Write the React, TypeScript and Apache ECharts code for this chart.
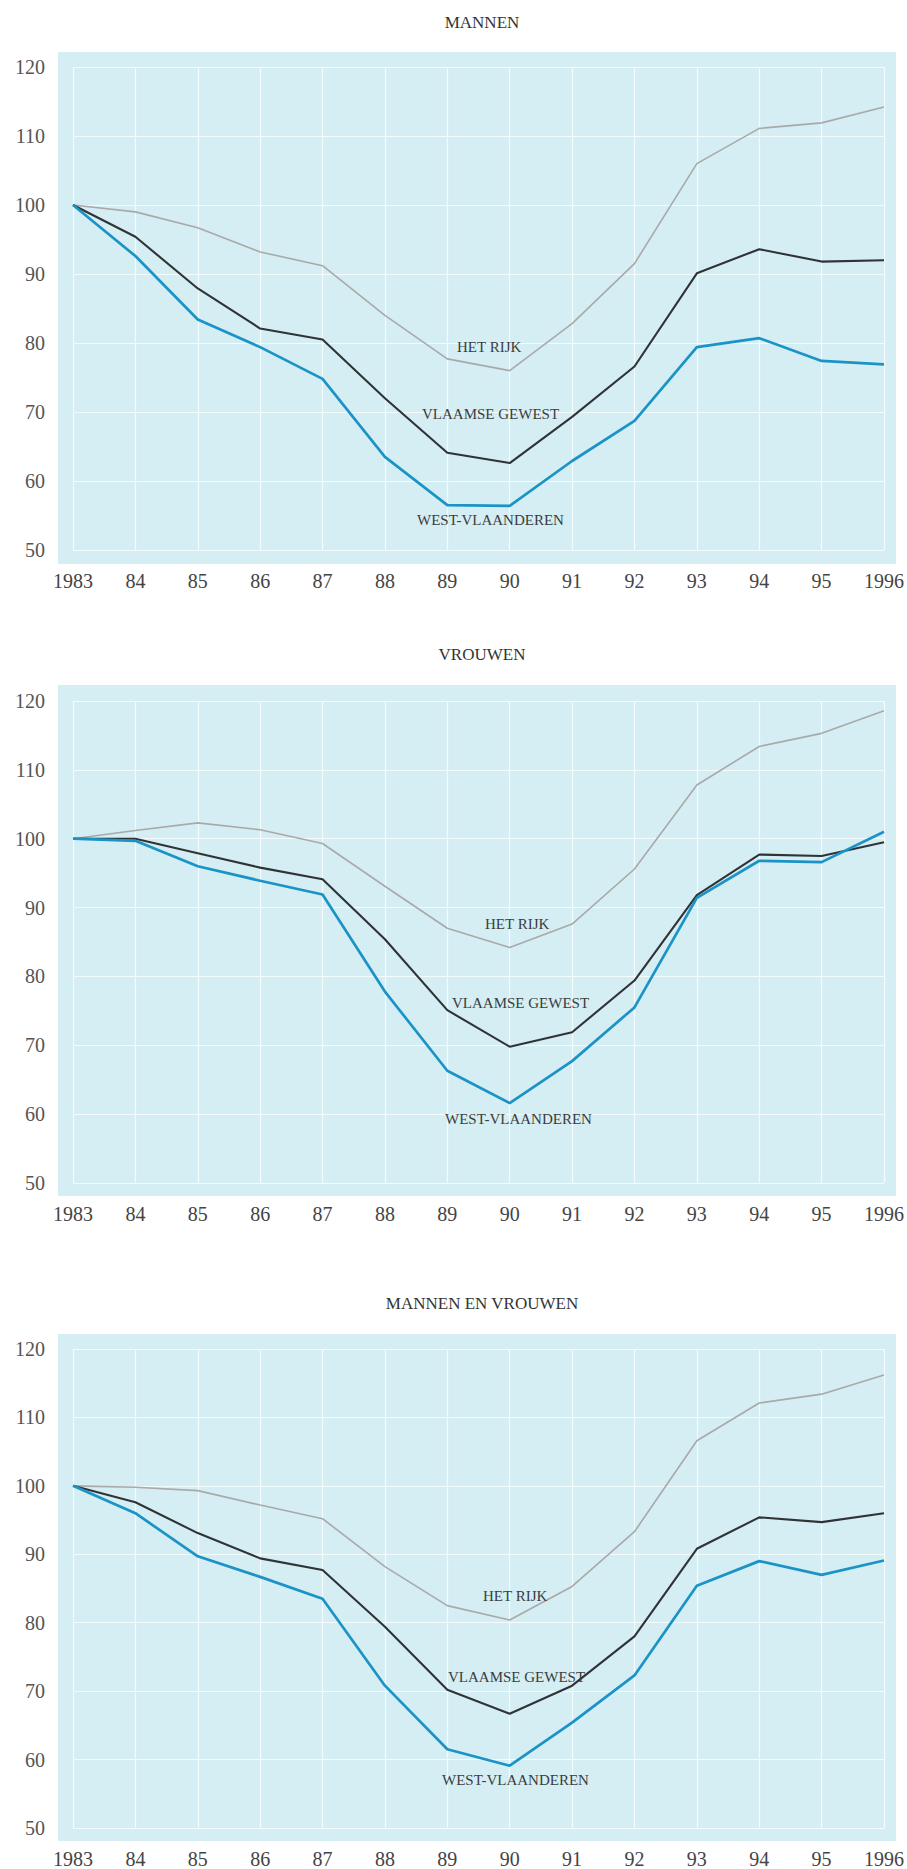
import React, { useEffect, useRef } from "react";
import * as echarts from "echarts";

const years = ["1983", "84", "85", "86", "87", "88", "89", "90", "91", "92", "93", "94", "95", "1996"];
const yTicks = [50, 60, 70, 80, 90, 100, 110, 120];
const chartTitles = ["MANNEN", "VROUWEN", "MANNEN EN VROUWEN"];
const seriesNames = ["HET RIJK", "VLAAMSE GEWEST", "WEST-VLAANDEREN"];

// MANNEN
const mannenRijk = [100, 99, 96.7, 93.2, 91.2, 84, 77.7, 76, 82.8, 91.5, 106, 111.1, 111.9, 114.2];
const mannenVlaams = [100, 95.4, 87.9, 82.1, 80.5, 72, 64.1, 62.6, 69.3, 76.6, 90.1, 93.6, 91.8, 92.0];
const mannenWest = [100, 92.6, 83.4, 79.4, 74.8, 63.5, 56.5, 56.4, 62.9, 68.7, 79.4, 80.7, 77.4, 76.9];

// VROUWEN
const vrouwenRijk = [100, 101.2, 102.3, 101.3, 99.3, 93.1, 87, 84.2, 87.6, 95.6, 107.8, 113.4, 115.3, 118.6];
const vrouwenVlaams = [100, 100, 97.9, 95.8, 94.1, 85.4, 75.1, 69.8, 71.9, 79.4, 91.8, 97.7, 97.5, 99.5];
const vrouwenWest = [100, 99.7, 96, 93.9, 91.9, 77.8, 66.3, 61.6, 67.7, 75.5, 91.4, 96.8, 96.6, 101];

// MANNEN EN VROUWEN
const totaalRijk = [100, 99.8, 99.3, 97.2, 95.2, 88.2, 82.5, 80.4, 85.3, 93.3, 106.6, 112.1, 113.4, 116.2];
const totaalVlaams = [100, 97.6, 93.1, 89.4, 87.7, 79.4, 70.2, 66.7, 70.8, 78.0, 90.8, 95.4, 94.7, 96];
const totaalWest = [100, 96, 89.7, 86.7, 83.5, 70.8, 61.5, 59.1, 65.4, 72.3, 85.4, 89, 87, 89.1];

const panelData = [
  [mannenRijk, mannenVlaams, mannenWest],
  [vrouwenRijk, vrouwenVlaams, vrouwenWest],
  [totaalRijk, totaalVlaams, totaalWest],
];

const FONT = "'Liberation Serif', 'DejaVu Serif', serif";
const lineColors = ["#a9a9a9", "#2f3335", "#1b93c6"];
const lineWidths = [1.6, 2.1, 2.7];

// layout (pixels)
const layout = [
  { titleY: 22, panelTop: 52, panelBottom: 564, gridTop: 67, gridHeight: 483, labels: [[457, 347], [422, 414], [417, 520]] },
  { titleY: 654, panelTop: 685, panelBottom: 1196, gridTop: 701, gridHeight: 482, labels: [[485, 924], [452, 1003], [445, 1119]] },
  { titleY: 1303, panelTop: 1334, panelBottom: 1841, gridTop: 1349, gridHeight: 479, labels: [[483, 1596], [448, 1677], [442, 1780]] },
];

export default function App() {
  const ref = useRef<HTMLDivElement>(null);
  useEffect(() => {
    document.body.style.margin = "0";
    if (!ref.current) return;
    const chart = echarts.init(ref.current, null, { renderer: "svg" });
    const grids: any[] = [];
    const xAxes: any[] = [];
    const yAxes: any[] = [];
    const series: any[] = [];
    const graphics: any[] = [];
    layout.forEach((l, i) => {
      graphics.push({
        type: "text",
        x: 482,
        y: l.titleY,
        z: 10,
        style: {
          text: chartTitles[i],
          fontFamily: FONT,
          fontSize: 17,
          fill: "#333",
          align: "center",
          verticalAlign: "middle",
        },
      });
      graphics.push({
        type: "rect",
        z: -10,
        shape: { x: 58, y: l.panelTop, width: 838, height: l.panelBottom - l.panelTop },
        style: { fill: "#d4eef4" },
      });
      l.labels.forEach((p, j) => {
        graphics.push({
          type: "text",
          x: p[0],
          y: p[1],
          z: 10,
          style: {
            text: seriesNames[j],
            fontFamily: FONT,
            fontSize: 15,
            fill: "#3c3c3c",
            verticalAlign: "middle",
          },
        });
      });
      grids.push({ left: 73, width: 820, top: l.gridTop, height: l.gridHeight, show: false });
      xAxes.push({
        type: "category",
        gridIndex: i,
        data: years,
        boundaryGap: false,
        axisLine: { show: false },
        axisTick: { show: false },
        axisLabel: { margin: 21, fontFamily: FONT, fontSize: 20, color: "#444" },
        splitLine: { show: true, lineStyle: { color: "#f3fbfc", width: 1.2 } },
      });
      yAxes.push({
        type: "value",
        gridIndex: i,
        min: yTicks[0],
        max: yTicks[yTicks.length - 1],
        interval: 10,
        axisLine: { show: false },
        axisTick: { show: false },
        axisLabel: { margin: 28, fontFamily: FONT, fontSize: 20, color: "#555" },
        splitLine: { show: true, lineStyle: { color: "#f3fbfc", width: 1.2 } },
      });
      panelData[i].forEach((d, j) => {
        series.push({
          type: "line",
          name: seriesNames[j],
          xAxisIndex: i,
          yAxisIndex: i,
          data: d,
          symbol: "none",
          lineStyle: { color: lineColors[j], width: lineWidths[j] },
          z: 3 + j,
        });
      });
    });
    chart.setOption({
      animation: false,
      backgroundColor: "#ffffff",
      grid: grids,
      xAxis: xAxes,
      yAxis: yAxes,
      series,
      graphic: graphics,
    });
    return () => chart.dispose();
  }, []);
  return <div ref={ref} style={{ width: 907, height: 1869 }} />;
}
